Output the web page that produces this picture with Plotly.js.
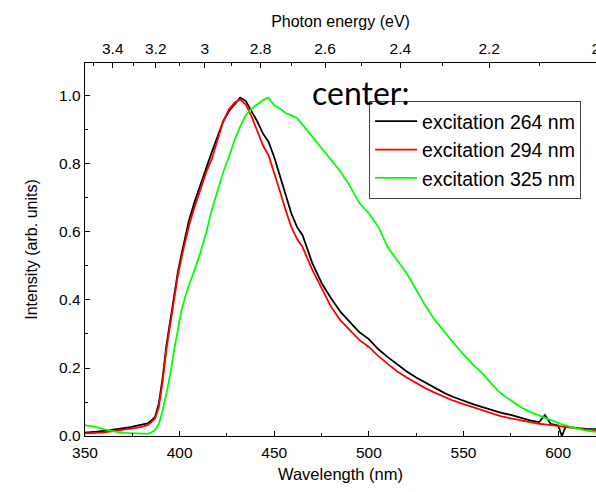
<!DOCTYPE html>
<html><head><meta charset="utf-8">
<script src="https://cdn.plot.ly/plotly-3.0.1.min.js"></script>
<style>html,body{margin:0;padding:0;background:#fff}</style>
</head><body><div id="chart" style="width:596px;height:492px"></div>
<script>
const wavelength = [350,353,356,359,362,365,368,371,374,377,380,383,385,387,389,391,393,395,397,399,401,403,405,408,411,414,417,420,423,426,429,432,435,438,441,444,447,450,453,456,459,462,465,470,475,480,485,490,495,500,505,510,515,520,525,530,535,540,545,550,555,560,565,570,575,580,585,590,593,596,600,602,604,607,610,615,620];
const exc264 = [0.010,0.011,0.012,0.014,0.016,0.019,0.021,0.023,0.026,0.030,0.033,0.037,0.045,0.056,0.095,0.170,0.265,0.340,0.410,0.480,0.535,0.590,0.635,0.690,0.740,0.790,0.835,0.880,0.925,0.955,0.975,0.995,0.985,0.955,0.925,0.890,0.865,0.820,0.765,0.705,0.655,0.615,0.590,0.510,0.450,0.405,0.365,0.335,0.305,0.285,0.255,0.232,0.210,0.190,0.172,0.156,0.140,0.126,0.114,0.103,0.094,0.085,0.076,0.068,0.062,0.053,0.046,0.041,0.062,0.036,0.031,0.000,0.028,0.026,0.023,0.021,0.020];
const exc294 = [0.008,0.008,0.009,0.010,0.012,0.014,0.016,0.018,0.021,0.024,0.027,0.032,0.040,0.052,0.085,0.160,0.255,0.330,0.400,0.470,0.525,0.575,0.620,0.675,0.725,0.775,0.815,0.870,0.925,0.960,0.980,0.990,0.975,0.940,0.895,0.855,0.825,0.775,0.720,0.665,0.615,0.580,0.555,0.490,0.435,0.380,0.340,0.310,0.282,0.262,0.235,0.212,0.190,0.172,0.155,0.140,0.127,0.114,0.103,0.094,0.085,0.077,0.068,0.058,0.052,0.046,0.041,0.036,0.034,0.032,0.028,0.027,0.025,0.023,0.021,0.019,0.017];
const exc325 = [0.032,0.030,0.026,0.021,0.017,0.013,0.011,0.009,0.008,0.007,0.006,0.006,0.010,0.018,0.035,0.075,0.125,0.180,0.250,0.310,0.370,0.410,0.445,0.490,0.540,0.597,0.665,0.720,0.775,0.820,0.870,0.910,0.945,0.962,0.975,0.988,0.995,0.972,0.963,0.950,0.943,0.935,0.915,0.880,0.846,0.812,0.778,0.735,0.685,0.655,0.615,0.555,0.515,0.478,0.430,0.382,0.340,0.305,0.272,0.240,0.210,0.184,0.152,0.124,0.104,0.086,0.071,0.060,0.052,0.045,0.037,0.034,0.031,0.026,0.022,0.016,0.012];
const seriesNames = ['excitation 264 nm','excitation 294 nm','excitation 325 nm'];
const seriesColors = ['#000000','#ff0000','#00ff00'];
const energyTicks = [3.4,3.2,3,2.8,2.6,2.4,2.2,2];
const energyMinor = [3.5,3.3,3.1,2.9,2.7,2.5,2.3,2.1];
const hc = 1239.84;

const series = [exc264, exc294, exc325];
const traces = series.map((y,i)=>({
  x: wavelength, y: y, type:'scatter', mode:'lines', name: seriesNames[i],
  line:{color: seriesColors[i], width:1.8}
}));
traces.push({x: wavelength, y: exc325, xaxis:'x2', yaxis:'y', mode:'lines', showlegend:false,
  hoverinfo:'skip', line:{color:'rgba(0,0,0,0)', width:0}});

const font = 'Liberation Sans, Arial, sans-serif';
const xr = [350, 620];
const layout = {
  width:596, height:492,
  margin:{l:85, r:0, t:63, b:56, pad:0},
  paper_bgcolor:'#fff', plot_bgcolor:'#fff',
  font:{family:font, color:'#000', size:15.5},
  showlegend:true,
  legend:{x:0.556, y:0.898, xanchor:'left', yanchor:'top', bgcolor:'#fff',
    bordercolor:'#444', borderwidth:1, font:{family:font, size:19.5, color:'#000'},
    tracegroupgap:0, itemwidth:42},
  xaxis:{range:xr, dtick:50, tick0:350, ticks:'inside', ticklen:5, tickwidth:1, tickcolor:'#000',
    minor:{dtick:25, tick0:350, ticks:'inside', ticklen:3, tickcolor:'#000'},
    showline:true, linecolor:'#000', linewidth:1.3, showgrid:false, zeroline:false,
    tickfont:{family:font, size:15.5}, ticklabelstandoff:2,
    title:{text:'Wavelength (nm)', font:{family:font, size:16.5}, standoff:8}},
  xaxis2:{range:xr, overlaying:'x', side:'top', anchor:'y',
    tickmode:'array', tickvals: energyTicks.map(e=>hc/e), ticktext: energyTicks.map(e=>String(e)),
    ticks:'inside', ticklen:5, tickcolor:'#000', ticklabeloverflow:'allow', ticklabelstandoff:2,
    minor:{tickmode:'array', tickvals: energyMinor.map(e=>hc/e), ticks:'inside', ticklen:3, tickcolor:'#000'},
    showline:true, linecolor:'#000', linewidth:1.3, showgrid:false, zeroline:false,
    tickfont:{family:font, size:15.5},
    title:{text:'Photon energy (eV)', font:{family:font, size:16}, standoff:8}},
  yaxis:{range:[0,1.097], dtick:0.2, tick0:0, tickformat:'.1f', ticks:'inside', ticklen:5, tickcolor:'#000',
    minor:{dtick:0.1, ticks:'inside', ticklen:3, tickcolor:'#000'},
    showline:true, linecolor:'#000', linewidth:1.3, showgrid:false, zeroline:false,
    tickfont:{family:font, size:15.5},
    title:{text:'Intensity (arb. units)', font:{family:font, size:16}, standoff:17}},
  annotations:[{text:'center:', xref:'paper', yref:'paper', x:0.44, y:0.92, xanchor:'left', yanchor:'middle',
    showarrow:false, font:{family:'Lato, Carlito, sans-serif', size:32, color:'#000'}}]
};
Plotly.newPlot('chart', traces, layout, {displayModeBar:false, staticPlot:true});
</script></body></html>
